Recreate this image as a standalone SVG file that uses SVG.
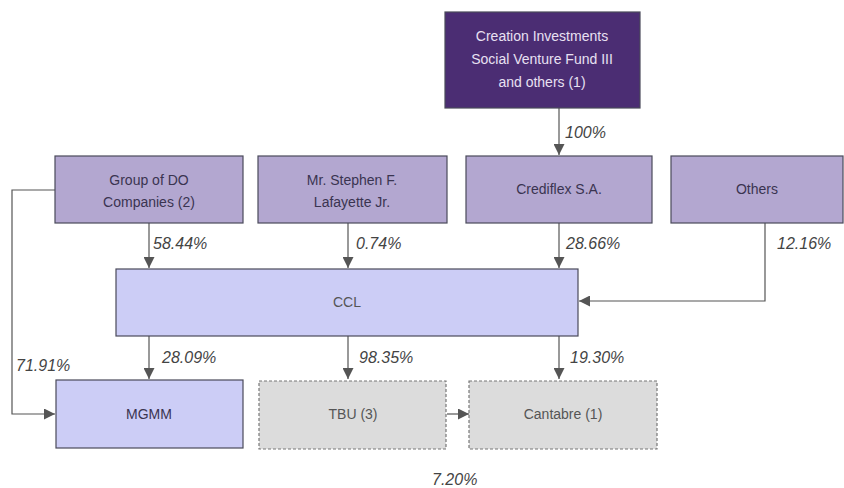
<svg xmlns="http://www.w3.org/2000/svg" width="844" height="488" viewBox="0 0 844 488">
<style>
.box{stroke:#4a4a5a;stroke-width:1.2}
.dark{fill:#4b2d73}
.lav{fill:#b3a7d0}
.peri{fill:#cccdf6}
.grey{fill:#dcdcdc;stroke:#777;stroke-dasharray:3 2;stroke-width:1.2}
.t{font-family:"Liberation Sans",Arial,sans-serif;font-size:14px;text-anchor:middle;fill:#3a3450}
.tw{font-family:"Liberation Sans",Arial,sans-serif;font-size:14px;text-anchor:middle;fill:#e8e0f2}
.tg{font-family:"Liberation Sans",Arial,sans-serif;font-size:14px;text-anchor:middle;fill:#555}
.lbl{font-family:"Liberation Sans",Arial,sans-serif;font-size:16px;font-style:italic;fill:#444}
.c{fill:none;stroke:#555;stroke-width:1.2}
</style>
<defs>
<marker id="ah" viewBox="0 0 10 10" refX="10" refY="5" markerWidth="11" markerHeight="11" markerUnits="userSpaceOnUse" orient="auto">
<path d="M0,0 L10,5 L0,10 Z" fill="#555"/>
</marker>
</defs>
<g id="connectors">
<path class="c" d="M559,108 V155" marker-end="url(#ah)"/>
<path class="c" d="M149,223 V268" marker-end="url(#ah)"/>
<path class="c" d="M348,223 V268" marker-end="url(#ah)"/>
<path class="c" d="M559,223 V268" marker-end="url(#ah)"/>
<path class="c" d="M765,223 V301 H579" marker-end="url(#ah)"/>
<path class="c" d="M55,190 H12 V414 H55" marker-end="url(#ah)"/>
<path class="c" d="M149,336 V379" marker-end="url(#ah)"/>
<path class="c" d="M348,336 V379" marker-end="url(#ah)"/>
<path class="c" d="M559,336 V379" marker-end="url(#ah)"/>
<path class="c" d="M447,414 H469" marker-end="url(#ah)"/>
</g>
<g id="labels">
<text class="lbl" x="565" y="138">100%</text>
<text class="lbl" x="153" y="249">58.44%</text>
<text class="lbl" x="356" y="249">0.74%</text>
<text class="lbl" x="566" y="249">28.66%</text>
<text class="lbl" x="777" y="249">12.16%</text>
<text class="lbl" x="16" y="371">71.91%</text>
<text class="lbl" x="162" y="363">28.09%</text>
<text class="lbl" x="359" y="363">98.35%</text>
<text class="lbl" x="570" y="363">19.30%</text>
<text class="lbl" x="432" y="485">7.20%</text>
</g>
<g id="creation">
<rect class="box dark" x="445" y="12" width="195" height="96"/>
<text class="tw" x="542" y="41">Creation Investments</text>
<text class="tw" x="542" y="64">Social Venture Fund III</text>
<text class="tw" x="542" y="87">and others (1)</text>
</g>
<g id="grupo">
<rect class="box lav" x="55" y="156" width="188" height="67"/>
<text class="t" x="149" y="185">Group of DO</text>
<text class="t" x="149" y="207">Companies (2)</text>
</g>
<g id="stephen">
<rect class="box lav" x="258" y="156" width="189" height="67"/>
<text class="t" x="352" y="185">Mr. Stephen F.</text>
<text class="t" x="352" y="207">Lafayette Jr.</text>
</g>
<g id="crediflex">
<rect class="box lav" x="466" y="156" width="186" height="67"/>
<text class="t" x="559" y="194">Crediflex S.A.</text>
</g>
<g id="others">
<rect class="box lav" x="671" y="156" width="172" height="67"/>
<text class="t" x="757" y="194">Others</text>
</g>
<g id="ccl">
<rect class="box peri" x="116" y="269" width="462" height="67"/>
<text class="tg" x="347" y="307">CCL</text>
</g>
<g id="mgmm">
<rect class="box peri" x="56" y="380" width="187" height="68"/>
<text class="t" x="149" y="419">MGMM</text>
</g>
<g id="tbu">
<rect class="grey" x="259" y="381" width="187" height="68"/>
<text class="tg" x="353" y="419">TBU (3)</text>
</g>
<g id="cantabre">
<rect class="grey" x="469" y="381" width="188" height="68"/>
<text class="tg" x="563" y="419">Cantabre (1)</text>
</g>
</svg>
